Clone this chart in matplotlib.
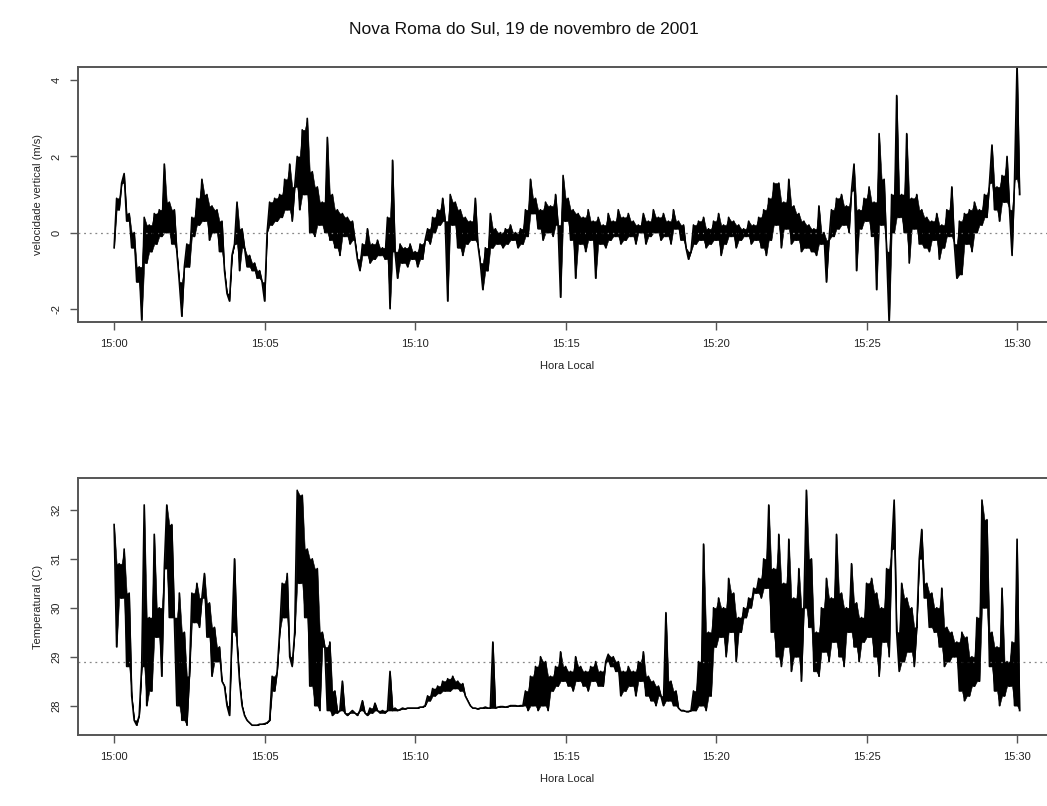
import numpy as np
import matplotlib
matplotlib.use('Agg')
import matplotlib.pyplot as plt

plt.rcParams['font.family'] = ['Liberation Sans', 'DejaVu Sans']

title = 'Nova Roma do Sul, 19 de novembro de 2001'
tick_minutes = [0, 5, 10, 15, 20, 25, 30]
tick_labels = ['15:00', '15:05', '15:10', '15:15', '15:20', '15:25', '15:30']
step_s = 5  # seconds between readings
w_ref = 0.0      # dotted reference line, upper panel
temp_ref = 28.9  # dotted reference line, lower panel

# vertical velocity (m/s), one row per minute, 5 s apart
w = [
    -0.4, 0.9, 0.6, 1.3, 1.55, 0.3, 0.5, -0.4, 0.0, -1.3, -0.9, -2.3,
    0.4, -0.8, 0.2, -0.5, 0.5, -0.3, 0.6, -0.1, 1.8, 0.0, 0.8, -0.3,
    0.6, -0.5, -1.3, -2.2, -0.9, -0.3, -0.9, 0.4, -0.1, 0.9, 0.2, 1.4,
    0.3, 1.0, -0.2, 0.7, 0.0, 0.6, -0.5, 0.3, -1.0, -1.6, -1.8, -0.6,
    -0.3, 0.8, -1.0, 0.1, -0.4, -0.9, -0.6, -1.0, -0.8, -1.2, -1.0, -1.3,
    -1.8, 0.0, 0.8, 0.2, 0.9, 0.3, 1.0, 0.4, 1.4, 0.6, 1.8, 0.3,
    1.2, 2.0, 0.6, 2.7, 1.0, 3.0, 0.0, 1.6, -0.1, 1.2, 0.2, 0.8,
    0.0, 2.5, -0.2, 1.0, -0.4, 0.6, -0.6, 0.5, -0.1, 0.4, -0.3, 0.3,
    -0.2, -0.7, -1.0, -0.3, -0.6, 0.1, -0.8, -0.3, -0.7, -0.2, -0.6, -0.4,
    -0.7, 0.4, -2.0, 1.9, -0.5, -1.2, -0.3, -0.8, -0.4, -0.9, -0.3, -0.7,
    -0.5, -0.9, -0.3, -0.7, -0.2, 0.1, -0.3, 0.4, 0.0, 0.6, 0.2, 0.9,
    0.3, -1.8, 1.0, 0.2, 0.8, -0.4, 0.6, -0.6, 0.4, -0.3, 0.3, -0.2,
    0.9, -0.3, -0.8, -1.5, -0.4, -1.0, 0.5, -0.4, 0.1, -0.3, 0.0, -0.4,
    0.1, -0.3, 0.2, -0.2, 0.0, -0.4, 0.1, -0.3, 0.6, -0.1, 1.4, 0.5,
    0.9, 0.1, 0.6, -0.2, 0.8, 0.0, 0.7, -0.1, 1.0, 0.2, -1.7, 1.5,
    0.3, 0.9, -0.2, 0.6, -1.2, 0.5, -0.3, 0.4, -0.5, 0.6, -0.2, 0.3,
    -1.2, 0.4, -0.3, 0.2, -0.4, 0.5, -0.2, 0.3, -0.1, 0.6, -0.3, 0.4,
    -0.2, 0.5, -0.1, 0.3, -0.3, 0.2, 0.0, 0.5, -0.3, 0.3, -0.1, 0.6,
    0.0, 0.4, -0.2, 0.5, -0.1, 0.3, -0.3, 0.6, 0.1, 0.3, -0.2, 0.2,
    -0.4, -0.7, -0.5, 0.2, -0.3, 0.3, -0.2, 0.4, -0.4, 0.1, -0.3, 0.3,
    -0.2, 0.5, -0.6, 0.2, -0.3, 0.4, -0.1, 0.3, -0.4, 0.2, -0.2, 0.1,
    -0.1, 0.3, -0.3, 0.2, -0.2, 0.4, -0.4, 0.6, -0.6, 0.9, -0.2, 1.3,
    0.2, 1.3, -0.4, 0.8, 0.1, 1.4, -0.3, 0.7, -0.2, 0.5, -0.5, 0.3,
    -0.4, 0.2, -0.5, 0.1, -0.6, 0.7, -0.3, 0.0, -1.3, -0.2, 0.6, -0.1,
    0.9, 0.1, 1.0, 0.2, 0.7, 0.0, 1.1, 1.8, -1.0, 0.6, 0.1, 0.9,
    0.3, 1.2, -0.1, 0.8, -1.5, 2.6, 0.2, 1.4, -0.5, -2.4, 1.0, 0.0,
    3.6, 0.4, 1.0, 0.0, 2.6, -0.8, 0.9, 0.1, 1.0, -0.3, 0.6, -0.4,
    0.4, -0.5, 0.3, -0.2, 0.5, -0.7, 0.2, -0.4, 0.6, -0.1, 1.2, -0.3,
    -1.2, 0.3, -1.1, 0.5, -0.3, 0.6, -0.5, 0.8, 0.0, 0.6, 0.2, 1.0,
    0.4, 1.3, 2.3, 0.6, 1.2, 0.3, 1.5, 0.8, 2.0, 0.6, -0.6, 1.4,
    4.45, 1.0,
]

# temperature (C), one row per minute, 5 s apart
temp = [
    31.7, 29.2, 30.9, 30.2, 31.2, 28.8, 30.3, 28.2, 27.7, 27.6, 27.8, 28.8,
    32.1, 28.0, 29.8, 28.3, 31.5, 29.4, 30.0, 28.6, 30.8, 32.1, 29.8, 31.7,
    29.8, 28.0, 30.3, 27.7, 29.5, 27.6, 28.6, 30.3, 29.7, 30.5, 29.6, 30.2,
    30.7, 29.4, 30.1, 28.6, 29.6, 28.9, 29.2, 28.5, 28.4, 28.0, 27.8, 29.5,
    31.0, 29.3, 28.5, 28.0, 27.8, 27.7, 27.65, 27.6, 27.6, 27.6, 27.62, 27.62,
    27.63, 27.65, 27.7, 28.6, 28.3, 28.7, 29.5, 30.5, 29.8, 30.7, 29.0, 28.8,
    29.5, 32.4, 30.5, 32.3, 29.8, 31.2, 28.4, 31.0, 28.0, 30.8, 27.9, 29.5,
    29.2, 27.9, 29.3, 27.8, 28.3, 27.85, 27.9, 28.5, 27.85, 27.8, 27.85, 27.9,
    27.85, 27.8, 27.9, 28.1, 27.85, 27.8, 27.95, 27.85, 28.05, 27.9, 27.85, 27.9,
    27.85, 27.9, 28.7, 27.9, 27.95, 27.9, 27.92, 27.95, 27.93, 27.95, 27.95, 27.95,
    27.95, 27.95, 27.97, 27.97, 28.0, 28.2, 28.1, 28.35, 28.2, 28.4, 28.25, 28.5,
    28.3, 28.55, 28.3, 28.6, 28.35, 28.5, 28.3, 28.45, 28.2, 28.1, 28.0, 27.95,
    27.95, 27.93, 27.95, 27.95, 27.97, 27.95, 27.95, 29.3, 27.95, 27.97, 27.98, 27.98,
    27.97, 27.98, 28.0, 28.0, 28.0, 27.99, 28.0, 28.0, 28.3, 27.9, 28.6, 28.0,
    28.8, 27.9, 29.0, 28.0, 28.9, 27.9, 28.6, 28.3, 28.8, 28.4, 29.1, 28.5,
    28.8, 28.4, 28.7, 28.3, 29.0, 28.5, 28.8, 28.4, 28.7, 28.3, 28.8, 28.5,
    28.9, 28.4, 28.7, 28.4, 28.9, 29.05, 28.8, 29.0, 28.7, 28.9, 28.2, 28.7,
    28.3, 28.8, 28.4, 28.7, 28.2, 28.9, 28.5, 29.1, 28.2, 28.6, 28.1, 28.5,
    28.0, 28.4, 28.2, 28.0, 29.9, 28.1, 28.5, 28.0, 28.3, 27.95, 27.9, 27.9,
    27.88, 27.88, 27.9, 28.3, 27.9, 28.9, 28.0, 31.3, 27.9, 29.5, 28.2, 30.0,
    29.2, 30.2, 29.4, 30.0, 29.0, 30.6, 29.5, 30.3, 28.9, 29.8, 29.5, 30.0,
    29.8, 30.2, 30.0, 30.4, 30.3, 30.6, 30.2, 31.0, 30.4, 32.1, 29.5, 30.8,
    29.0, 31.5, 28.8, 30.5, 29.2, 31.4, 28.7, 30.2, 29.0, 30.8, 28.5, 30.0,
    32.4, 29.6, 31.0, 28.7, 29.5, 28.6, 30.0, 29.1, 30.6, 28.9, 30.2, 29.3,
    31.5, 29.0, 30.3, 28.8, 30.0, 29.5, 30.9, 29.2, 30.1, 28.9, 29.8, 29.3,
    30.5, 29.4, 30.6, 29.0, 30.3, 28.6, 30.0, 29.3, 30.8, 29.0, 31.2, 32.2,
    29.5, 28.7, 30.5, 28.9, 30.2, 29.1, 30.0, 28.8, 29.6, 31.0, 31.6, 30.2,
    30.5, 29.6, 30.3, 29.5, 30.0, 29.2, 30.4, 28.8, 29.6, 28.9, 29.5, 29.0,
    29.3, 28.3, 29.5, 28.1, 29.4, 28.2, 29.0, 28.4, 29.8, 28.5, 32.2, 30.0,
    31.8, 28.8, 29.5, 28.3, 29.2, 28.0, 30.4, 28.2, 28.9, 28.4, 29.3, 28.0,
    31.4, 27.9,
]

t_w = np.arange(len(w)) * step_s / 60.0
t_temp = np.arange(len(temp)) * step_s / 60.0

fig = plt.figure(figsize=(10.47, 8.06), dpi=100)
ax1 = fig.add_axes([0.0745, 0.6005, 0.9337, 0.3164])
ax2 = fig.add_axes([0.0745, 0.0881, 0.9337, 0.3188])

spine_col = '#555555'


def style_axes(ax, yticks, ylabel, ylim):
    ax.set_xlim(-1.2, 31.28)
    ax.set_ylim(*ylim)
    ax.set_xticks(tick_minutes)
    ax.set_xticklabels(tick_labels)
    ax.set_yticks(yticks)
    ax.set_yticklabels([str(v) for v in yticks], rotation=90, va='center')
    ax.tick_params(direction='out', length=6, width=1, colors=spine_col,
                   labelcolor='#222222', labelsize=8, pad=6)
    for s in ax.spines.values():
        s.set_color(spine_col)
        s.set_linewidth(1.4)
    ax.set_xlabel('Hora Local', fontsize=8, color='#222222', labelpad=9)
    ax.set_ylabel(ylabel, fontsize=8, color='#222222', labelpad=6)


def dense_trace(ax, t, v):
    # the original record is much denser than these readings; close the gaps
    # of each local zig-zag so the trace reads as the same solid band
    v = np.asarray(v, dtype=float)
    prev = np.r_[v[0], v[:-1]]
    nxt = np.r_[v[1:], v[-1]]
    hi = np.maximum(v, np.minimum(prev, nxt))
    lo = np.minimum(v, np.maximum(prev, nxt))
    ax.fill_between(t, lo, hi, facecolor='black', edgecolor='black', linewidth=0.4)
    ax.plot(t, v, color='black', linewidth=1.2)


ax1.axhline(w_ref, color='#888888', linestyle=(0, (1.5, 3)), linewidth=0.9)
dense_trace(ax1, t_w, w)
style_axes(ax1, [-2, 0, 2, 4], 'velocidade vertical (m/s)', (-2.35, 4.35))

ax2.axhline(temp_ref, color='#888888', linestyle=(0, (1.5, 3)), linewidth=0.9)
dense_trace(ax2, t_temp, temp)
style_axes(ax2, [28, 29, 30, 31, 32], 'Temperatural (C)', (27.4, 32.65))

fig.text(0.5, 0.963, title, ha='center', va='center', fontsize=12.5, color='#111111')

fig.savefig('out.png', dpi=100)
